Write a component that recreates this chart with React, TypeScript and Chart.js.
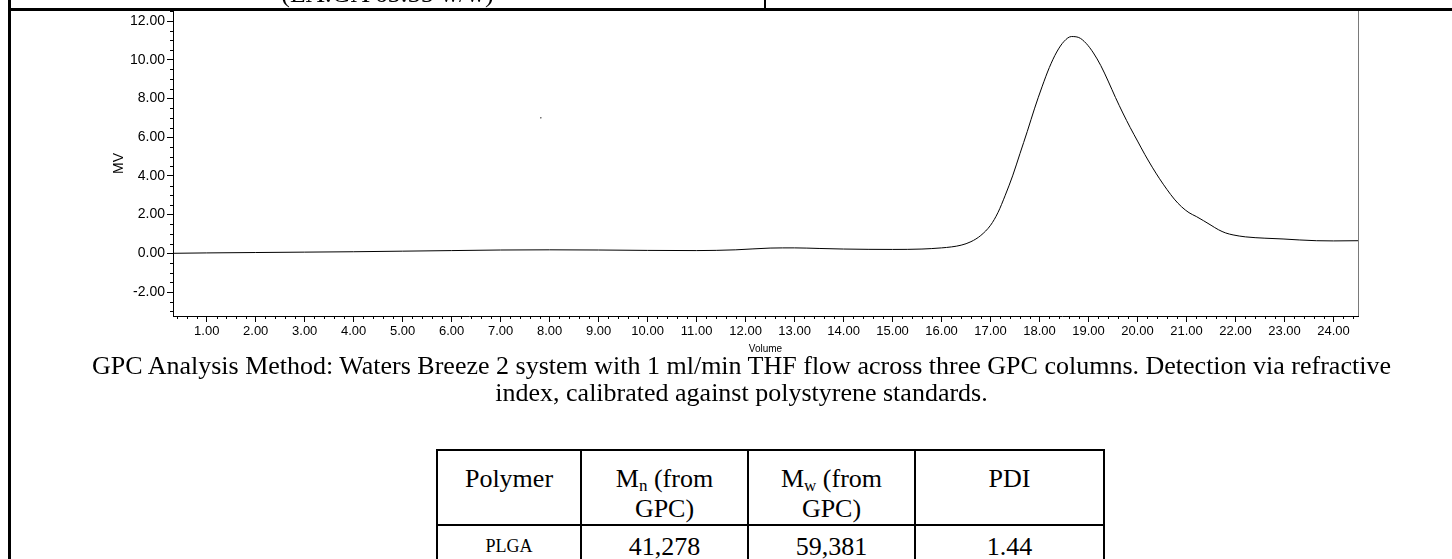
import React, { useEffect, useRef } from "react";
import { Chart, registerables } from "chart.js";

Chart.register(...registerables);

// ---- chromatogram data (Volume in mL, detector response in MV) ----
const volume = [
  0.31, 1.0, 2.0, 3.0, 4.0, 5.0, 6.0, 7.0, 8.0, 9.0, 10.0, 11.0, 11.8, 12.5, 13.0,
  13.5, 14.0, 15.0, 15.6, 16.0, 16.2, 16.4, 16.6, 16.8, 17.0, 17.15, 17.3, 17.45,
  17.6, 17.75, 17.9, 18.05, 18.2, 18.35, 18.5, 18.65, 18.8, 18.95, 19.1, 19.25,
  19.4, 19.55, 19.7, 19.85, 20.0, 20.15, 20.3, 20.45, 20.6, 20.75, 20.9, 21.05,
  21.2, 21.35, 21.5, 21.65, 21.8, 21.95, 22.2, 22.6, 22.97, 23.3, 23.65, 24.0, 24.5,
];
const signalMV = [
  0.0, 0.02, 0.04, 0.06, 0.08, 0.11, 0.14, 0.17, 0.18, 0.17, 0.15, 0.14, 0.18, 0.27, 0.28,
  0.25, 0.22, 0.2, 0.22, 0.28, 0.33, 0.42, 0.6, 0.92, 1.45, 2.1, 3.0, 4.0,
  5.15, 6.3, 7.5, 8.6, 9.6, 10.4, 10.95, 11.2, 11.15, 10.85, 10.35, 9.7,
  8.9, 8.05, 7.25, 6.5, 5.8, 5.1, 4.45, 3.85, 3.3, 2.8, 2.4, 2.1,
  1.9, 1.68, 1.45, 1.22, 1.05, 0.95, 0.85, 0.78, 0.74, 0.69, 0.65, 0.64, 0.65,
];
const strayVolume = [7.82];
const strayMV = [7.0];

const xMin = 0.312;
const xMax = 24.5;
const xStep = 0.2;
const yMin = -3.24;
const yMax = 12.52;
const yStep = 0.5;

const xTitle = "Volume";
const yTitle = "MV";

// ---- document text ----
const topCellText = "(LA:GA 65:35 w/w)";
const captionLines = [
  "GPC Analysis Method: Waters Breeze 2 system with 1 ml/min THF flow across three GPC columns. Detection via refractive",
  "index, calibrated against polystyrene standards.",
];
const tablePolymer = ["PLGA"];
const tableMn = ["41,278"];
const tableMw = ["59,381"];
const tablePDI = ["1.44"];

const SANS = '"Liberation Sans", Arial, Helvetica, sans-serif';
const SERIF = '"Liberation Serif", "Times New Roman", Times, serif';

const isMajorX = (v: number) => Math.abs(v - Math.round(v)) < 1e-6;
const isMajorY = (v: number) => Math.abs(v / 2 - Math.round(v / 2)) < 1e-6;

const minorTicksPlugin = {
  id: "minorTicks",
  afterDraw(chart: any) {
    const ctx = chart.ctx;
    const { top, bottom, left, right } = chart.chartArea;
    const xs = chart.scales.x;
    const ys = chart.scales.y;
    ctx.save();
    ctx.strokeStyle = "#000";
    ctx.lineWidth = 1;
    ctx.beginPath();
    xs.ticks.forEach((t: any) => {
      if (!isMajorX(t.value)) {
        const px = Math.round(xs.getPixelForValue(t.value)) + 0.5;
        ctx.moveTo(px, bottom);
        ctx.lineTo(px, bottom + 3);
      }
    });
    ys.ticks.forEach((t: any) => {
      if (!isMajorY(t.value)) {
        const py = Math.round(ys.getPixelForValue(t.value)) + 0.5;
        ctx.moveTo(left, py);
        ctx.lineTo(left - 3, py);
      }
    });
    ctx.stroke();
    ctx.strokeStyle = "#7a7a7a";
    ctx.beginPath();
    const rx = Math.round(right) + 0.5;
    ctx.moveTo(rx, top);
    ctx.lineTo(rx, bottom);
    ctx.stroke();
    ctx.restore();
  },
};

function GpcChart() {
  const ref = useRef<HTMLCanvasElement | null>(null);
  useEffect(() => {
    if (!ref.current) return;
    const chart = new Chart(ref.current, {
      type: "line",
      data: {
        datasets: [
          {
            data: volume.map((v, i) => ({ x: v, y: signalMV[i] })),
            borderColor: "#000",
            borderWidth: 1,
            pointRadius: 0,
            cubicInterpolationMode: "monotone",
            fill: false,
          },
          {
            data: strayVolume.map((v, i) => ({ x: v, y: strayMV[i] })),
            showLine: false,
            pointRadius: 0.8,
            pointBorderWidth: 0,
            pointBackgroundColor: "#555",
          },
        ],
      } as any,
      options: {
        responsive: false,
        animation: false,
        events: [],
        layout: { padding: { left: 0, top: 11, right: 94, bottom: 0 } },
        plugins: { legend: { display: false }, tooltip: { enabled: false } },
        scales: {
          x: {
            type: "linear",
            min: xMin,
            max: xMax,
            afterFit: (s: any) => {
              s.height = 44;
            },
            ticks: {
              stepSize: xStep,
              autoSkip: false,
              includeBounds: false,
              maxRotation: 0,
              minRotation: 0,
              padding: 2,
              color: "#000",
              font: { family: SANS, size: 13 },
              callback: (v: any) => (isMajorX(Number(v)) ? Number(v).toFixed(2) : ""),
            },
            grid: {
              drawOnChartArea: false,
              drawTicks: true,
              tickLength: 6,
              tickColor: (c: any) => (c.tick && isMajorX(c.tick.value) ? "#000" : "rgba(0,0,0,0)"),
            },
            border: { display: true, color: "#000", width: 1 },
            title: {
              display: true,
              text: xTitle,
              color: "#000",
              font: { family: SANS, size: 10 },
              padding: { top: 0, bottom: 5 },
            },
          },
          y: {
            type: "linear",
            min: yMin,
            max: yMax,
            afterFit: (s: any) => {
              s.width = 173;
            },
            ticks: {
              stepSize: yStep,
              autoSkip: false,
              includeBounds: false,
              padding: 2,
              color: "#000",
              font: { family: SANS, size: 14 },
              callback: (v: any) => (isMajorY(Number(v)) ? Number(v).toFixed(2) : ""),
            },
            grid: {
              drawOnChartArea: false,
              drawTicks: true,
              tickLength: 6,
              tickColor: (c: any) => (c.tick && isMajorY(c.tick.value) ? "#000" : "rgba(0,0,0,0)"),
            },
            border: { display: true, color: "#000", width: 1 },
            title: {
              display: true,
              text: yTitle,
              color: "#000",
              font: { family: SANS, size: 14 },
              padding: { top: 111, bottom: 0 },
            },
          },
        },
      } as any,
      plugins: [minorTicksPlugin],
    });
    return () => chart.destroy();
  }, []);
  return (
    <canvas
      ref={ref}
      width={1452}
      height={360}
      style={{ position: "absolute", left: 0, top: 0, width: 1452, height: 360 }}
    />
  );
}

const line = (style: React.CSSProperties) => (
  <div style={{ position: "absolute", background: "#000", ...style }} />
);

const cols = [437, 581, 748, 915, 1104];

export default function App() {
  const serif26: React.CSSProperties = {
    position: "absolute",
    fontFamily: SERIF,
    fontSize: 26,
    lineHeight: "27px",
    color: "#000",
    textAlign: "center",
    whiteSpace: "nowrap",
  };
  const sub: React.CSSProperties = {
    fontSize: 17,
    verticalAlign: "baseline",
    position: "relative",
    top: 4,
  };
  return (
    <div
      style={{
        position: "fixed",
        left: 0,
        top: 0,
        width: 1452,
        height: 559,
        overflow: "hidden",
        background: "#fff",
      }}
    >
      <GpcChart />
      {/* previous table row (clipped) */}
      <div style={{ ...serif26, left: 10, width: 755, top: -20 }}>{topCellText}</div>
      {line({ left: 764, top: 0, width: 2, height: 9 })}
      {line({ left: 8, top: 8, width: 1444, height: 3 })}
      {line({ left: 8, top: 0, width: 3, height: 559 })}

      {/* caption */}
      <div style={{ ...serif26, left: 0, width: 1483, top: 352 }}>
        {captionLines[0]}
        <br />
        {captionLines[1]}
      </div>

      {/* results table */}
      {line({ left: cols[0] - 1, top: 449, width: cols[4] - cols[0] + 2, height: 2 })}
      {line({ left: cols[0] - 1, top: 524, width: cols[4] - cols[0] + 2, height: 2 })}
      {cols.map((c, i) => (
        <React.Fragment key={i}>{line({ left: c - 1, top: 449, width: 2, height: 120 })}</React.Fragment>
      ))}
      <div style={{ ...serif26, left: cols[0], width: cols[1] - cols[0], top: 465 }}>Polymer</div>
      <div style={{ ...serif26, left: cols[1], width: cols[2] - cols[1], top: 465 }}>
        M<span style={sub}>n</span> (from
        <br />
        GPC)
      </div>
      <div style={{ ...serif26, left: cols[2], width: cols[3] - cols[2], top: 465 }}>
        M<span style={sub}>w</span> (from
        <br />
        GPC)
      </div>
      <div style={{ ...serif26, left: cols[3], width: cols[4] - cols[3], top: 465 }}>PDI</div>

      <div style={{ ...serif26, fontSize: 18, left: cols[0], width: cols[1] - cols[0], top: 533 }}>
        {tablePolymer[0]}
      </div>
      <div style={{ ...serif26, left: cols[1], width: cols[2] - cols[1], top: 533 }}>{tableMn[0]}</div>
      <div style={{ ...serif26, left: cols[2], width: cols[3] - cols[2], top: 533 }}>{tableMw[0]}</div>
      <div style={{ ...serif26, left: cols[3], width: cols[4] - cols[3], top: 533 }}>{tablePDI[0]}</div>
    </div>
  );
}
